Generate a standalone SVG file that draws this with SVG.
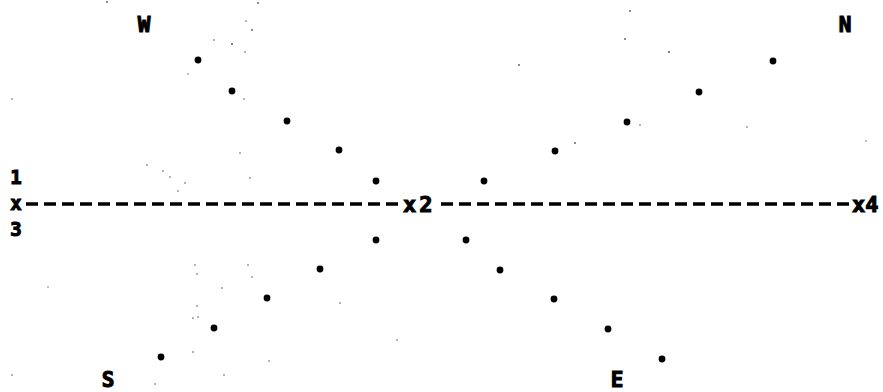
<svg xmlns="http://www.w3.org/2000/svg" width="883" height="392" viewBox="0 0 883 392">
<style>
.t{font-family:"DejaVu Sans Mono","Liberation Mono",monospace;font-weight:bold;fill:#000;stroke:#000;stroke-width:1.1}
.d{fill:#000}
.s{fill:#555}
.dash{stroke:#000;stroke-width:3.5;stroke-dasharray:12 6;fill:none}
</style>
<rect width="883" height="392" fill="#fff"/>
<g id="labels">
<text class="t" x="144" y="32" font-size="21" text-anchor="middle">W</text>
<text class="t" x="845" y="32" font-size="21" text-anchor="middle">N</text>
<text class="t" x="108" y="387" font-size="21" text-anchor="middle">S</text>
<text class="t" x="617" y="387" font-size="21" text-anchor="middle">E</text>
<text class="t" x="16" y="184" font-size="19" text-anchor="middle">1</text>
<text class="t" x="16" y="236" font-size="19" text-anchor="middle">3</text>
<text class="t" x="16" y="210" font-size="19" text-anchor="middle">x</text>
<text class="t" x="403" y="212" font-size="22" letter-spacing="3">x2</text>
<text class="t" x="852" y="212" font-size="22">x4</text>
</g>
<g id="connectors">
<line class="dash" x1="26" y1="204" x2="400" y2="204"/>
<line class="dash" x1="441" y1="204" x2="851" y2="204"/>
</g>
<g id="points">
<circle class="d" cx="198" cy="60" r="3.4"/>
<circle class="d" cx="232" cy="91" r="3.4"/>
<circle class="d" cx="287" cy="121" r="3.4"/>
<circle class="d" cx="339" cy="150" r="3.4"/>
<circle class="d" cx="376" cy="181" r="3.4"/>
<circle class="d" cx="484" cy="181" r="3.4"/>
<circle class="d" cx="555" cy="151" r="3.4"/>
<circle class="d" cx="627" cy="122" r="3.4"/>
<circle class="d" cx="699" cy="92" r="3.4"/>
<circle class="d" cx="773" cy="61" r="3.4"/>
<circle class="d" cx="376" cy="240" r="3.4"/>
<circle class="d" cx="320" cy="269" r="3.4"/>
<circle class="d" cx="267" cy="298" r="3.4"/>
<circle class="d" cx="214" cy="328" r="3.4"/>
<circle class="d" cx="161" cy="357" r="3.4"/>
<circle class="d" cx="466" cy="240" r="3.4"/>
<circle class="d" cx="500" cy="270" r="3.4"/>
<circle class="d" cx="554" cy="299" r="3.4"/>
<circle class="d" cx="608" cy="329" r="3.4"/>
<circle class="d" cx="662" cy="359" r="3.4"/>
</g>
<g id="specks">
<circle class="s" cx="107" cy="2" r="0.9"/>
<circle class="s" cx="258" cy="3" r="0.9"/>
<circle class="s" cx="246" cy="21" r="0.8"/>
<circle class="s" cx="252" cy="30" r="0.9"/>
<circle class="s" cx="214" cy="40" r="0.8"/>
<circle class="s" cx="232" cy="44" r="1"/>
<circle class="s" cx="245" cy="52" r="0.8"/>
<circle class="s" cx="188" cy="74" r="0.7"/>
<circle class="s" cx="244" cy="99" r="0.8"/>
<circle class="s" cx="630" cy="11" r="0.9"/>
<circle class="s" cx="625" cy="39" r="0.9"/>
<circle class="s" cx="669" cy="52" r="1"/>
<circle class="s" cx="519" cy="65" r="0.9"/>
<circle class="s" cx="575" cy="143" r="0.9"/>
<circle class="s" cx="747" cy="127" r="0.8"/>
<circle class="s" cx="640" cy="125" r="0.8"/>
<circle class="s" cx="12" cy="99" r="0.8"/>
<circle class="s" cx="147" cy="165" r="0.8"/>
<circle class="s" cx="163" cy="171" r="0.8"/>
<circle class="s" cx="170" cy="177" r="0.8"/>
<circle class="s" cx="185" cy="183" r="0.8"/>
<circle class="s" cx="178" cy="191" r="0.8"/>
<circle class="s" cx="250" cy="178" r="0.8"/>
<circle class="s" cx="240" cy="153" r="0.8"/>
<circle class="s" cx="195" cy="265" r="0.8"/>
<circle class="s" cx="197" cy="274" r="0.8"/>
<circle class="s" cx="248" cy="265" r="0.8"/>
<circle class="s" cx="252" cy="277" r="0.8"/>
<circle class="s" cx="222" cy="288" r="0.8"/>
<circle class="s" cx="197" cy="306" r="0.8"/>
<circle class="s" cx="198" cy="317" r="0.8"/>
<circle class="s" cx="193" cy="318" r="0.8"/>
<circle class="s" cx="340" cy="303" r="0.8"/>
<circle class="s" cx="193" cy="352" r="0.8"/>
<circle class="s" cx="269" cy="361" r="0.8"/>
<circle class="s" cx="224" cy="375" r="0.8"/>
<circle class="s" cx="155" cy="384" r="0.8"/>
<circle class="s" cx="397" cy="340" r="0.8"/>
<circle class="s" cx="12" cy="375" r="0.8"/>
<circle class="s" cx="866" cy="141" r="0.7"/>
<circle class="s" cx="48" cy="287" r="0.7"/>
</g>
</svg>
